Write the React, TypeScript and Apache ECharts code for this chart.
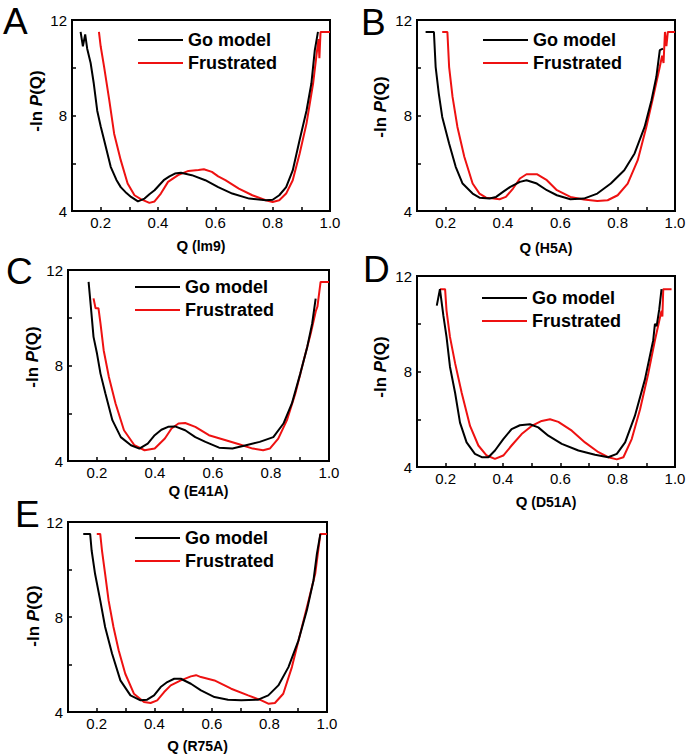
import React, { useEffect, useRef } from "react";
import * as echarts from "echarts";

// ---- Data (Q, -ln P(Q)) ----
const aGo: number[][] = [[0.13,11.5],[0.138,10.9],[0.146,11.4],[0.153,10.8],[0.165,10.2],[0.176,9.34],[0.188,8.2],[0.2,7.55],[0.212,6.97],[0.235,5.85],[0.255,5.3],[0.27,5.0],[0.29,4.75],[0.306,4.59],[0.33,4.4],[0.353,4.52],[0.37,4.7],[0.388,4.87],[0.42,5.29],[0.44,5.45],[0.459,5.57],[0.48,5.6],[0.518,5.5],[0.565,5.29],[0.61,5.0],[0.659,4.73],[0.718,4.52],[0.776,4.45],[0.8,4.47],[0.823,4.66],[0.847,5.0],[0.87,5.7],[0.894,6.97],[0.918,8.2],[0.935,9.34],[0.947,10.74],[0.958,11.5]];
const aFr: number[][] = [[0.194,11.5],[0.2,10.9],[0.212,10.04],[0.23,8.64],[0.247,7.24],[0.27,6.13],[0.294,5.15],[0.318,4.66],[0.34,4.5],[0.37,4.34],[0.388,4.4],[0.41,4.73],[0.435,5.22],[0.47,5.5],[0.506,5.68],[0.541,5.72],[0.56,5.75],[0.588,5.64],[0.61,5.45],[0.635,5.29],[0.682,4.94],[0.729,4.66],[0.776,4.45],[0.8,4.38],[0.823,4.45],[0.847,4.73],[0.87,5.29],[0.894,6.4],[0.918,7.66],[0.941,9.34],[0.955,10.74],[0.96,11.2],[0.963,10.4],[0.967,11.5],[1.0,11.5]];
const bGo: number[][] = [[0.13,11.5],[0.159,11.5],[0.165,10.04],[0.176,8.92],[0.188,7.94],[0.212,6.83],[0.235,5.85],[0.259,5.15],[0.294,4.73],[0.318,4.56],[0.353,4.52],[0.376,4.59],[0.4,4.8],[0.424,5.0],[0.459,5.22],[0.482,5.29],[0.518,5.15],[0.553,4.87],[0.588,4.66],[0.635,4.49],[0.682,4.52],[0.729,4.73],[0.776,5.15],[0.823,5.71],[0.859,6.41],[0.894,7.52],[0.918,8.64],[0.935,9.62],[0.947,10.74],[0.958,10.8]];
const bFr: number[][] = [[0.188,11.5],[0.206,11.5],[0.212,10.04],[0.224,8.78],[0.241,7.52],[0.265,6.27],[0.294,5.15],[0.318,4.73],[0.341,4.56],[0.388,4.49],[0.41,4.59],[0.435,4.94],[0.459,5.36],[0.482,5.54],[0.518,5.54],[0.553,5.29],[0.588,4.87],[0.635,4.59],[0.682,4.48],[0.729,4.42],[0.765,4.45],[0.8,4.66],[0.835,5.15],[0.87,6.13],[0.9,7.52],[0.924,8.78],[0.947,10.04],[0.955,10.5],[0.96,10.2],[0.965,11.5],[0.97,10.9],[0.975,11.5],[1.0,11.5]];
const cGo: number[][] = [[0.171,11.5],[0.18,10.3],[0.188,9.2],[0.2,8.5],[0.212,7.66],[0.229,6.83],[0.253,5.71],[0.282,5.0],[0.317,4.66],[0.346,4.52],[0.375,4.73],[0.399,5.08],[0.422,5.31],[0.445,5.43],[0.469,5.45],[0.504,5.29],[0.539,5.0],[0.574,4.8],[0.621,4.56],[0.667,4.52],[0.714,4.66],[0.761,4.8],[0.808,5.0],[0.843,5.57],[0.872,6.41],[0.901,7.66],[0.925,8.78],[0.942,9.76],[0.954,10.8]];
const cFr: number[][] = [[0.188,10.81],[0.195,10.4],[0.205,10.4],[0.212,9.76],[0.223,8.64],[0.241,7.52],[0.264,6.41],[0.293,5.29],[0.329,4.66],[0.364,4.45],[0.399,4.52],[0.434,4.94],[0.457,5.36],[0.481,5.57],[0.504,5.59],[0.539,5.43],[0.586,5.08],[0.644,4.87],[0.69,4.7],[0.737,4.52],[0.773,4.45],[0.796,4.52],[0.825,4.94],[0.855,5.71],[0.884,6.83],[0.913,8.22],[0.937,9.34],[0.955,10.3],[0.96,10.46],[0.971,11.5],[1.0,11.5]];
const dGo: number[][] = [[0.169,10.76],[0.18,11.45],[0.192,10.34],[0.203,9.45],[0.215,8.2],[0.233,7.1],[0.25,5.86],[0.273,5.03],[0.302,4.55],[0.326,4.41],[0.349,4.41],[0.372,4.69],[0.401,5.17],[0.43,5.59],[0.459,5.75],[0.494,5.79],[0.523,5.66],[0.558,5.31],[0.605,4.97],[0.663,4.69],[0.721,4.51],[0.767,4.41],[0.797,4.55],[0.826,5.03],[0.86,6.14],[0.895,7.66],[0.924,9.31],[0.93,10.0],[0.936,9.9],[0.945,10.6],[0.953,11.45]];
const dFr: number[][] = [[0.18,11.45],[0.198,11.45],[0.203,10.55],[0.215,9.45],[0.233,8.34],[0.256,7.1],[0.285,5.72],[0.314,4.9],[0.343,4.48],[0.372,4.34],[0.401,4.48],[0.43,4.9],[0.465,5.38],[0.5,5.72],[0.535,5.93],[0.564,6.0],[0.593,5.89],[0.64,5.52],[0.686,5.03],[0.733,4.62],[0.767,4.41],[0.797,4.32],[0.82,4.41],[0.849,5.17],[0.878,6.41],[0.907,7.93],[0.93,9.31],[0.953,10.55],[0.956,10.3],[0.959,11.45],[0.988,11.45]];
const eGo: number[][] = [[0.153,11.5],[0.177,11.5],[0.182,10.81],[0.194,9.82],[0.212,8.7],[0.229,7.58],[0.253,6.46],[0.282,5.33],[0.317,4.7],[0.352,4.49],[0.375,4.52],[0.399,4.7],[0.422,5.05],[0.445,5.26],[0.469,5.4],[0.492,5.4],[0.527,5.19],[0.562,4.91],[0.609,4.63],[0.656,4.52],[0.702,4.49],[0.761,4.52],[0.796,4.7],[0.831,5.12],[0.866,5.89],[0.901,7.02],[0.93,8.28],[0.953,9.54],[0.965,10.67],[0.977,11.5]];
const eFr: number[][] = [[0.2,11.5],[0.212,11.5],[0.218,10.81],[0.229,9.82],[0.241,8.7],[0.258,7.58],[0.276,6.6],[0.299,5.61],[0.329,4.77],[0.364,4.42],[0.387,4.38],[0.41,4.49],[0.434,4.84],[0.457,5.12],[0.492,5.33],[0.527,5.5],[0.545,5.55],[0.562,5.47],[0.609,5.33],[0.667,4.98],[0.726,4.7],[0.772,4.49],[0.796,4.35],[0.819,4.38],[0.848,4.77],[0.878,5.89],[0.907,7.3],[0.936,8.7],[0.959,9.82],[0.971,10.94],[0.977,11.5],[1.0,11.5]];

const seriesNames = ["Go model", "Frustrated"];
const panelLetters = ["A", "B", "C", "D", "E"];
const mutantLabels = ["(lm9)", "(H5A)", "(E41A)", "(D51A)", "(R75A)"];
const yTickLabels = [4, 8, 12];
const xTickLabels = [0.2, 0.4, 0.6, 0.8, 1.0];
const panelData = [[aGo, aFr], [bGo, bFr], [cGo, cFr], [dGo, dFr], [eGo, eFr]];

// ---- Layout (positions only) ----
const layout = [
  { grid: { left: 72, top: 20, width: 258, height: 191 }, lx: 3, ly: 21, xGap: 27, yx: 36, yy: 101, legX: 138, legY: 40 },
  { grid: { left: 417, top: 20, width: 258, height: 191 }, lx: 361, ly: 22, xGap: 29, yx: 380, yy: 107, legX: 483, legY: 40 },
  { grid: { left: 68, top: 270, width: 261, height: 191 }, lx: 6, ly: 271, xGap: 22, yx: 32, yy: 357, legX: 135, legY: 287 },
  { grid: { left: 417, top: 276, width: 258, height: 191 }, lx: 363, ly: 269, xGap: 27, yx: 380, yy: 367, legX: 482, legY: 298 },
  { grid: { left: 68, top: 522, width: 259, height: 190 }, lx: 15, ly: 514, xGap: 26, yx: 33, yy: 616, legX: 135, legY: 538 },
];

const FONT = "'Liberation Sans', Arial, Helvetica, sans-serif";
const COLORS = ["#000000", "#ee1111"];

export default function App() {
  const ref = useRef<HTMLDivElement>(null);
  useEffect(() => {
    document.body.style.margin = "0";
    if (!ref.current) return;
    const chart = echarts.init(ref.current, undefined, { renderer: "svg" });

    const grids: any[] = [];
    const xAxes: any[] = [];
    const yAxes: any[] = [];
    const series: any[] = [];
    const graphics: any[] = [];

    layout.forEach((p, i) => {
      grids.push({ ...p.grid, show: true, borderColor: "#000", borderWidth: 2, backgroundColor: "transparent" });
      xAxes.push({
        type: "value", gridIndex: i, min: 0.1, max: 1.0, interval: 0.1,
        axisLine: { show: true, onZero: false, lineStyle: { color: "#000", width: 2 } },
        axisTick: { show: true, inside: true, length: 4, lineStyle: { color: "#000", width: 1.5 } },
        splitLine: { show: false },
        axisLabel: {
          margin: 4, color: "#000", fontSize: 15, fontFamily: FONT,
          formatter: (v: number) => {
            const hit = xTickLabels.find((t) => Math.abs(t - v) < 1e-6);
            return hit !== undefined ? hit.toFixed(1) : "";
          },
        },
        name: `{q|Q} {p|${mutantLabels[i]}}`,
        nameLocation: "middle", nameGap: p.xGap,
        nameTextStyle: {
          fontSize: 14, fontWeight: "bold", fontFamily: FONT, color: "#000",
          rich: {
            q: { fontSize: 15, fontWeight: "bold", fontFamily: FONT, color: "#000" },
            p: { fontSize: 14, fontWeight: "bold", fontFamily: FONT, color: "#000" },
          },
        },
      });
      yAxes.push({
        type: "value", gridIndex: i, min: 4, max: 12, interval: 2,
        axisLine: { show: true, onZero: false, lineStyle: { color: "#000", width: 2 } },
        axisTick: { show: true, inside: true, length: 4, lineStyle: { color: "#000", width: 1.5 } },
        splitLine: { show: false },
        axisLabel: {
          margin: 5, color: "#000", fontSize: 15, fontFamily: FONT,
          formatter: (v: number) => (yTickLabels.indexOf(v) >= 0 ? String(v) : ""),
        },
      });
      panelData[i].forEach((d, k) => {
        series.push({
          type: "line", name: seriesNames[k], xAxisIndex: i, yAxisIndex: i,
          data: d, symbol: "none", smooth: false, z: k === 0 ? 3 : 2,
          lineStyle: { color: COLORS[k], width: 2 },
        });
      });

      graphics.push({
        type: "text", x: p.lx, y: p.ly,
        style: { text: panelLetters[i], font: `37px ${FONT}`, fill: "#000", align: "left", verticalAlign: "middle" },
      });
      graphics.push({
        type: "text", x: p.yx, y: p.yy, rotation: Math.PI / 2,
        style: {
          text: "{a|-ln }{b|P}{a|(Q)}", align: "center", verticalAlign: "middle",
          rich: {
            a: { fontSize: 17, fontWeight: "bold", fontFamily: FONT, fill: "#000" },
            b: { fontSize: 17, fontWeight: "bold", fontStyle: "italic", fontFamily: FONT, fill: "#000" },
          },
        },
      });
      seriesNames.forEach((nm, k) => {
        const yy = p.legY + k * 23;
        graphics.push({
          type: "line", shape: { x1: p.legX, y1: yy, x2: p.legX + 45, y2: yy },
          style: { stroke: COLORS[k], lineWidth: 2 },
        });
        graphics.push({
          type: "text", x: p.legX + 50, y: yy,
          style: { text: nm, font: `bold 18px ${FONT}`, fill: "#000", align: "left", verticalAlign: "middle" },
        });
      });
    });

    chart.setOption({
      animation: false,
      backgroundColor: "#ffffff",
      grid: grids,
      xAxis: xAxes,
      yAxis: yAxes,
      series,
      graphic: graphics,
    });
    return () => chart.dispose();
  }, []);
  return <div ref={ref} style={{ width: 690, height: 755 }} />;
}
